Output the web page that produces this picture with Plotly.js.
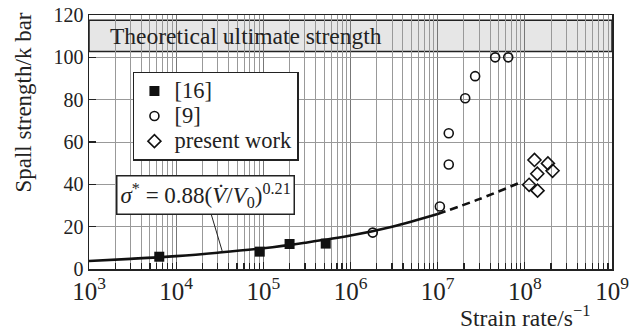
<!DOCTYPE html>
<html>
<head>
<meta charset="utf-8">
<script src="https://cdn.plot.ly/plotly-3.0.1.min.js"></script>
<style>
html,body{margin:0;padding:0;background:#fff;}
#chart{width:640px;height:336px;}
.legendtext{font-size:22.5px !important;}
</style>
</head>
<body>
<div id="chart"></div>
<script>
// [16] filled squares
const ref16X = [6.4e3, 9.1e4, 2.0e5, 5.2e5];
const ref16Y = [5.8, 8.2, 11.8, 12.0];
// [9] open circles
const ref9X = [1.8e6, 1.06e7, 1.34e7, 1.34e7, 2.07e7, 2.69e7, 4.57e7, 6.45e7];
const ref9Y = [17.2, 29.5, 49.4, 64.1, 80.7, 91.1, 100, 100];
// present work open diamonds
const presentX = [1.29e8, 1.84e8, 2.08e8, 1.39e8, 1.12e8, 1.40e8];
const presentY = [51.5, 49.9, 46.4, 45.0, 39.8, 37.0];
// fitted curve (solid part, dashed extrapolation)
const fitX = [1e3, 3e3, 1e4, 3e4, 1e5, 3e5, 1e6, 3e6, 1e7];
const fitY = [3.8, 4.8, 6.1, 7.7, 9.8, 12.4, 15.8, 20.0, 26.0];
const extX = [1e7, 3e7, 9e7];
const extY = [26.0, 33.0, 41.0];
// theoretical ultimate strength band
const bandLow = 102.7, bandHigh = 117.5;
const yTicks = [0, 20, 40, 60, 80, 100, 120];

const F = '"Liberation Serif", "Times New Roman", serif';
const traces = [
  {x: fitX, y: fitY, type: 'scatter', mode: 'lines', line: {color: '#111', width: 2.6, shape: 'spline'}, showlegend: false, hoverinfo: 'skip'},
  {x: extX, y: extY, type: 'scatter', mode: 'lines', line: {color: '#111', width: 2.6, dash: '8px,5px', shape: 'spline'}, showlegend: false, hoverinfo: 'skip'},
  {x: ref16X, y: ref16Y, type: 'scatter', mode: 'markers', name: '[16]', marker: {symbol: 'square', size: 10, color: '#111', line: {width: 0}}},
  {x: ref9X, y: ref9Y, type: 'scatter', mode: 'markers', name: '[9]', marker: {symbol: 'circle-open', size: 9, color: '#111', line: {width: 1.6}}},
  {x: presentX, y: presentY, type: 'scatter', mode: 'markers', name: 'present work', marker: {symbol: 'diamond-open', size: 10, color: '#111', line: {width: 1.6}}}
];

const layout = {
  width: 640, height: 336,
  margin: {l: 89, r: 28, t: 15, b: 67},
  paper_bgcolor: '#fff', plot_bgcolor: '#fff',
  font: {family: F, size: 20, color: '#222'},
  xaxis: {
    type: 'log', range: [3, 9], dtick: 1, exponentformat: 'power',
    showline: true, linecolor: '#222', linewidth: 1.5, mirror: true,
    ticks: 'inside', ticklen: 7, tickcolor: '#222', tickwidth: 1.2,
    showgrid: true, gridcolor: '#777', gridwidth: 1,
    minor: {dtick: 'D1', showgrid: true, gridcolor: '#999', gridwidth: 1, ticks: 'inside', ticklen: 6, tickcolor: '#222'},
    tickfont: {family: F, size: 20, color: '#222'}, zeroline: false
  },
  yaxis: {
    range: [0, 120], tickvals: yTicks,
    showline: true, linecolor: '#222', linewidth: 1.5, mirror: true,
    ticks: 'inside', ticklen: 7, tickcolor: '#222', tickwidth: 1.2,
    showgrid: true, gridcolor: '#999', gridwidth: 1, zeroline: false,
    tickfont: {family: F, size: 20, color: '#222'}
  },
  legend: {
    x: 0.084, y: 0.776, xanchor: 'left', yanchor: 'top',
    bgcolor: '#fff', bordercolor: '#222', borderwidth: 1.5,
    font: {family: F, size: 17, color: '#222'}, tracegroupgap: 0
  },
  shapes: [
    {type: 'rect', xref: 'paper', x0: 0, x1: 1, yref: 'y', y0: bandLow, y1: bandHigh, fillcolor: '#e6e6e6', line: {color: '#222', width: 1.5}, layer: 'between'}
  ],
  annotations: [
    {xref: 'paper', x: 0.036, yref: 'y', y: (bandLow + bandHigh) / 2, xanchor: 'left', yanchor: 'middle', showarrow: false,
     text: 'Theoretical ultimate strength', font: {family: F, size: 23.5, color: '#222'}},
    {x: Math.log10(3.4e4), y: 8.0, xref: 'x', yref: 'y', showarrow: true, arrowhead: 0, arrowwidth: 1, arrowcolor: '#222',
     ax: -17, ay: -57, text: '<i>σ</i><sup>*</sup> = 0.88(<i>V̇</i>/<i>V</i><sub>0</sub>)<sup>0.21</sup>',
     font: {family: F, size: 23, color: '#222'}, bgcolor: '#fff', bordercolor: '#222', borderwidth: 1.5, borderpad: 3},
    {xref: 'x', x: 8, yref: 'paper', y: -0.185, xanchor: 'center', yanchor: 'middle', showarrow: false,
     text: 'Strain rate/s<sup>−1</sup>', font: {family: F, size: 23.5, color: '#222'}},
    {xref: 'paper', x: -0.1243, yref: 'paper', y: 0.655, xanchor: 'center', yanchor: 'middle', showarrow: false, textangle: -90,
     text: 'Spall strength/k bar', font: {family: F, size: 23, color: '#222'}}
  ]
};
Plotly.newPlot('chart', traces, layout, {displayModeBar: false, staticPlot: true});
</script>
</body>
</html>
